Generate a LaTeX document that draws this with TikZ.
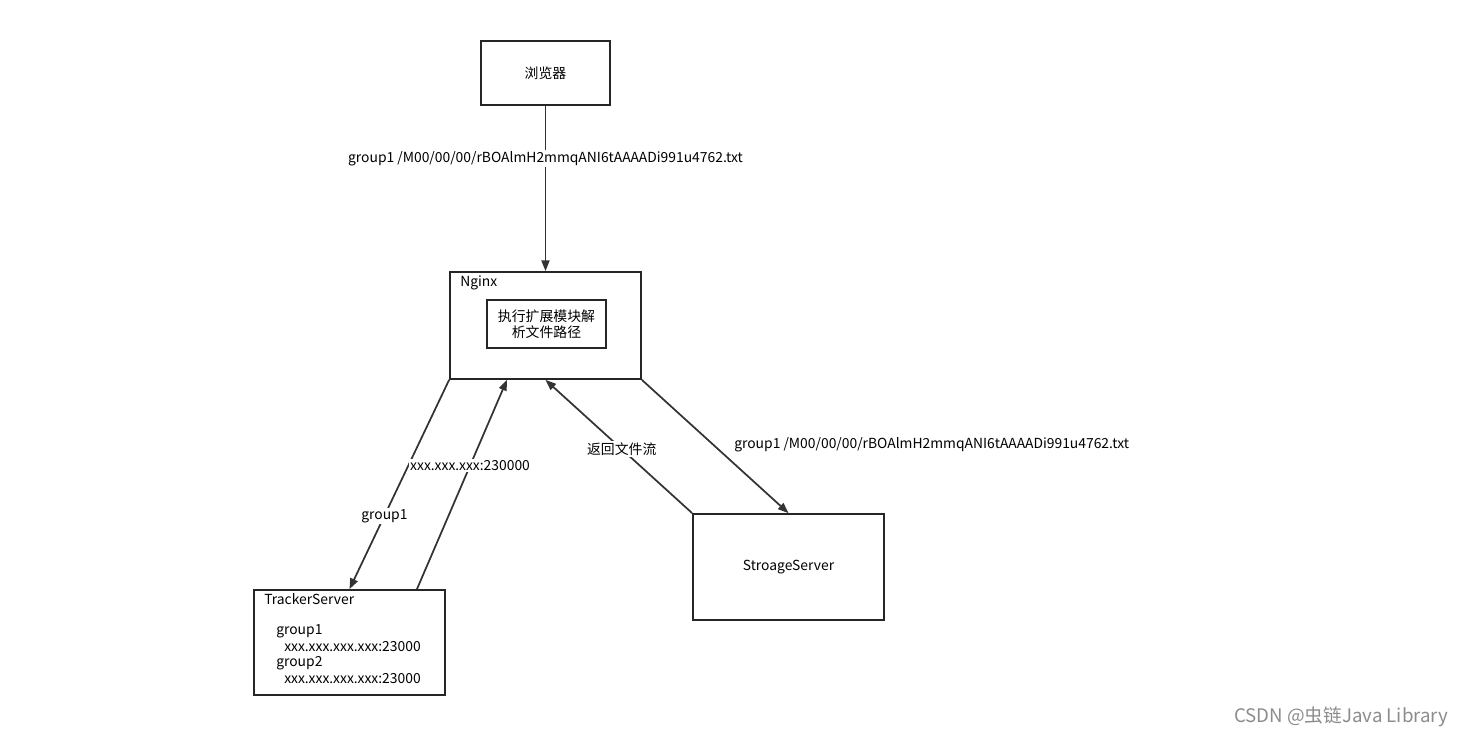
\documentclass[tikz,border=0pt]{standalone}
\usepackage{fontspec}
\setmainfont{Noto Sans CJK SC}
\usetikzlibrary{arrows.meta,positioning,calc}

\begin{document}
\begin{tikzpicture}[x=0.75pt, y=-0.75pt, >={Triangle[length=8pt,width=6pt]},
  box/.style={draw=black!85, line width=1.3pt, inner sep=0pt, font=\fontsize{10.4}{12.2}\selectfont},
  flow/.style={->, draw=black!80, line width=1.3pt},
  lbl/.style={fill=white, inner sep=1pt, font=\fontsize{10.4}{12.2}\selectfont},
  txt/.style={inner sep=0pt, anchor=west, font=\fontsize{10.4}{12.2}\selectfont}]
  \useasboundingbox (0,0) rectangle (1464,737);
  % boxes
  \node[box, minimum width=96.75pt, minimum height=48pt] (browser) at (545.5,73) {浏览器};
  \node[box, minimum width=143.25pt, minimum height=80.25pt] (nginx) at (545.5,325.5) {};
  \node[txt] (nginxname) at (460,283) {Nginx};
  \node[box, minimum width=89.25pt, minimum height=36pt, align=center] (parse) at (546.5,324)
    {执行扩展模块解\\析文件路径};
  \node[box, minimum width=143.25pt, minimum height=78.75pt] (tracker) at (349.5,642.5) {};
  \node[txt] (trackername) at (264,599) {TrackerServer};
  \node[txt] (g1) at (276,631) {group1};
  \node[txt] (ip1) at (284,647) {xxx.xxx.xxx.xxx:23000};
  \node[txt] (g2) at (276,663) {group2};
  \node[txt] (ip2) at (284,679) {xxx.xxx.xxx.xxx:23000};
  \node[box, minimum width=143.25pt, minimum height=79.5pt] (storage) at (788.5,567) {StroageServer};
  % connectors
  \draw[flow] (browser.south) -- node[lbl, pos=0.32] {group1 /M00/00/00/rBOAlmH2mmqANI6tAAAADi991u4762.txt} (nginx.north);
  \draw[flow] (nginx.south west) -- node[lbl, pos=0.65] {group1} (tracker.north);
  \draw[flow] ($(tracker.north west)!0.85!(tracker.north east)$) -- node[lbl, pos=0.59] {xxx.xxx.xxx:230000}
    ($(nginx.south west)!0.3!(nginx.south east)$);
  \draw[flow] (storage.north west) -- node[lbl, pos=0.48] {返回文件流} (nginx.south);
  \draw[flow] (nginx.south east) -- (storage.north);
  \node[txt] (storelbl) at (734,445) {group1 /M00/00/00/rBOAlmH2mmqANI6tAAAADi991u4762.txt};
  % watermark
  \node[txt, text=black!45, font=\fontsize{14}{16}\selectfont] (mark) at (1234,717) {CSDN @虫链Java Library};
\end{tikzpicture}
\end{document}
